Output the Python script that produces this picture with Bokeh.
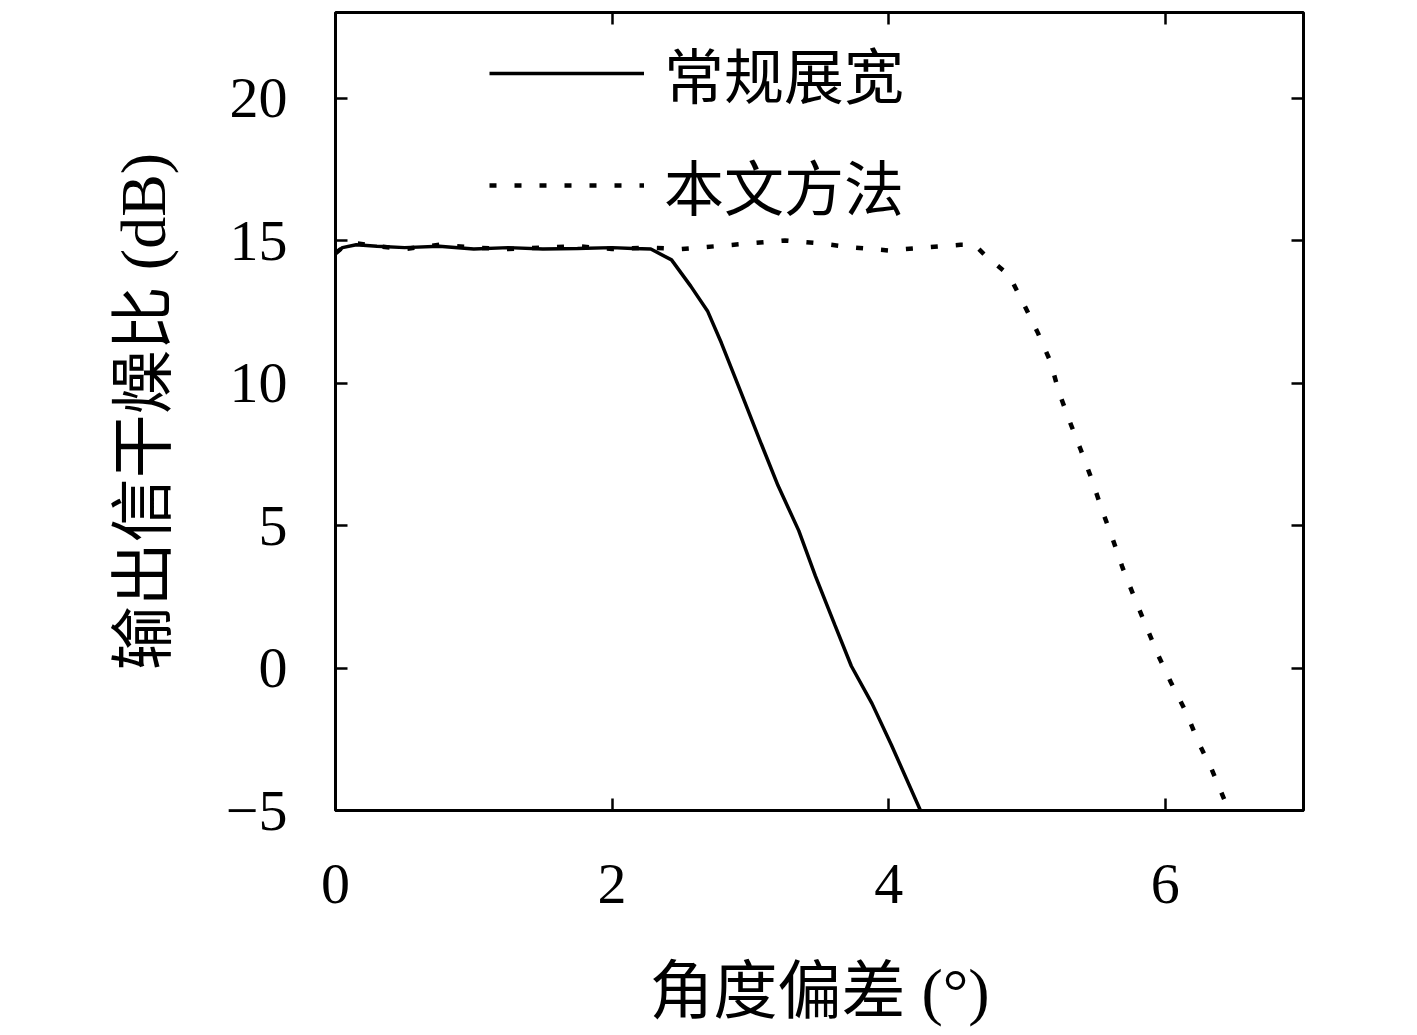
from bokeh.plotting import figure
from bokeh.models import LinearAxis, Legend, LegendItem, Range1d, FixedTicker, CustomJSTickFormatter
from bokeh.embed import file_html
from bokeh.resources import INLINE

# angle offset (deg) vs output SINR (dB)
conv_x = [0, 0.05, 0.15, 0.3, 0.5, 0.75, 1.0, 1.25, 1.5, 1.75, 2.0, 2.15, 2.28,
          2.43, 2.57, 2.69, 2.79, 2.93, 3.08, 3.20, 3.35, 3.47, 3.61, 3.73, 3.88, 4.02, 4.23]
conv_y = [14.55, 14.75, 14.85, 14.8, 14.75, 14.8, 14.7, 14.75, 14.7, 14.72, 14.75, 14.72, 14.7,
          14.32, 13.39, 12.53, 11.41, 9.70, 7.85, 6.40, 4.82, 3.23, 1.52, 0.07, -1.25, -2.70, -5.0]

prop_x = [0, 0.05, 0.15, 0.3, 0.5, 0.75, 1.0, 1.25, 1.5, 1.75, 2.0, 2.25, 2.5, 2.75, 3.0, 3.25,
          3.5, 3.75, 4.0, 4.25, 4.52, 4.62, 4.70, 4.87, 4.98, 5.08, 5.17, 5.23, 5.31, 5.39, 5.47,
          5.54, 5.62, 5.69, 5.77, 5.86, 5.95, 6.04, 6.15, 6.24, 6.34, 6.46]
prop_y = [14.55, 14.75, 14.9, 14.8, 14.7, 14.85, 14.75, 14.7, 14.75, 14.8, 14.7, 14.75, 14.7,
          14.8, 14.9, 15.0, 14.9, 14.75, 14.65, 14.75, 14.85, 14.85, 14.47, 13.79, 12.74, 11.75,
          10.75, 9.70, 8.64, 7.65, 6.60, 5.59, 4.53, 3.54, 2.56, 1.49, 0.44, -0.49, -1.54, -2.6,
          -3.6, -5.0]

x_ticks = [0, 2, 4, 6]
y_ticks = [-5, 0, 5, 10, 15, 20]

NUM_FONT = "Liberation Serif"
LABEL_FONT = "Liberation Serif, Noto Sans CJK SC"

p = figure(frame_width=968, frame_height=798,
           x_range=Range1d(0, 7), y_range=Range1d(-5, 23),
           output_backend="svg", toolbar_location=None,
           min_border_left=335, min_border_top=12, min_border_right=105, min_border_bottom=200)
p.background_fill_color = "white"
p.border_fill_color = "white"
p.grid.visible = False
p.outline_line_color = "black"
p.outline_line_width = 3

p.xaxis.ticker = FixedTicker(ticks=x_ticks)
p.yaxis.ticker = FixedTicker(ticks=y_ticks)
p.yaxis.major_label_overrides = {-5: "\u22125"}
p.xaxis.axis_label = "角度偏差 (°)"
p.yaxis.axis_label = "输出信干燥比 (dB)"

for ax in [p.xaxis[0], p.yaxis[0]]:
    ax.axis_line_color = None
    ax.major_tick_in = 12
    ax.major_tick_out = 0
    ax.major_tick_line_width = 2.5
    ax.minor_tick_line_color = None
    ax.major_label_text_font = NUM_FONT
    ax.major_label_text_font_size = "58px"
    ax.major_label_text_color = "black"
    ax.axis_label_text_font = LABEL_FONT
    ax.axis_label_text_font_size = "64px"
    ax.axis_label_text_font_style = "normal"
    ax.axis_label_text_color = "black"
p.xaxis.axis_line_color = "black"
p.xaxis.axis_line_width = 3
p.xaxis.major_label_standoff = 54
p.yaxis.major_label_standoff = 48
p.xaxis.axis_label_standoff = 50
p.yaxis.axis_label_standoff = 44

# mirror ticks on top and right, no labels
blank = CustomJSTickFormatter(code="return ''")
top = LinearAxis(ticker=FixedTicker(ticks=x_ticks), formatter=blank)
right = LinearAxis(ticker=FixedTicker(ticks=y_ticks), formatter=blank)
for ax in [top, right]:
    ax.axis_line_color = None
    ax.major_tick_in = 12
    ax.major_tick_out = 0
    ax.major_tick_line_width = 2.5
    ax.minor_tick_line_color = None
    ax.major_label_standoff = 0
p.add_layout(top, "above")
p.add_layout(right, "right")

r1 = p.line(conv_x, conv_y, line_color="black", line_width=3.5)
r2 = p.line(prop_x, prop_y, line_color="black", line_width=4.5, line_dash="7 18")

legend = Legend(items=[LegendItem(label="常规展宽", renderers=[r1]),
                       LegendItem(label="本文方法", renderers=[r2])],
                location=(154, 582))
legend.border_line_color = None
legend.background_fill_alpha = 0
legend.padding = 0
legend.margin = 0
legend.glyph_width = 155
legend.glyph_height = 70
legend.spacing = 25
legend.label_standoff = 20
legend.label_text_font = LABEL_FONT
legend.label_text_font_size = "60px"
legend.label_text_color = "black"
p.add_layout(legend)

open("out.html", "w").write(file_html(p, INLINE))
